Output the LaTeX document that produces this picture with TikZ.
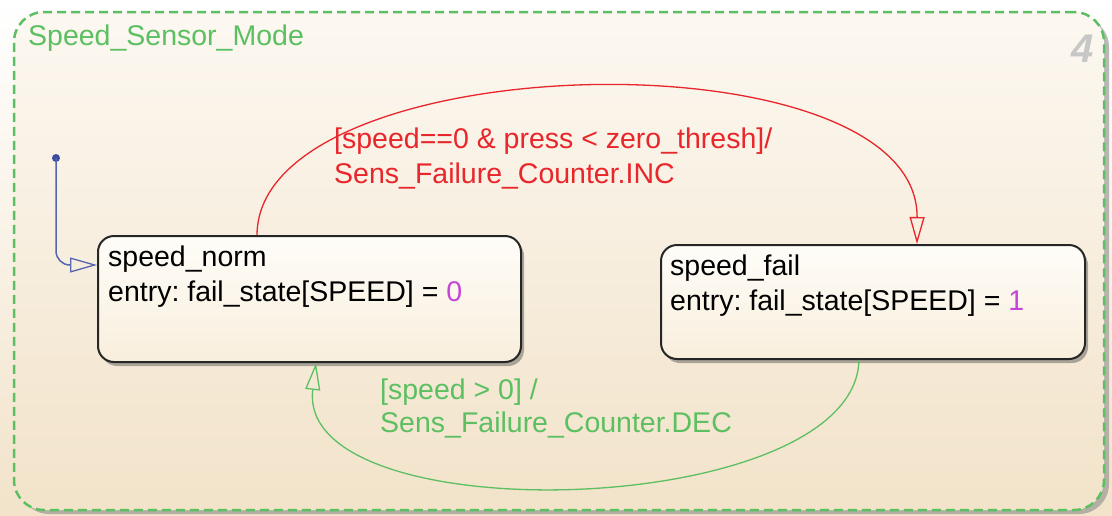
\documentclass[tikz,border=0pt]{standalone}
\usepackage{fontspec}
\setmainfont{Liberation Sans}
\usetikzlibrary{arrows.meta,shadows,calc}
\definecolor{sfgreen}{HTML}{5CBF62}
\definecolor{sfred}{HTML}{E8262B}
\definecolor{sfblue}{HTML}{5565B0}
\definecolor{sfdot}{HTML}{3D4C9C}
\definecolor{sfmag}{HTML}{C446D6}
\definecolor{bgtop}{HTML}{FCF8F1}
\definecolor{bgbot}{HTML}{F2E3CA}
\definecolor{boxtop}{HTML}{FFFDF9}
\definecolor{boxbot}{HTML}{F8EEDC}
\frenchspacing
\begin{document}
\begin{tikzpicture}[x=1pt,y=-1pt,
  lbl/.style={font=\fontsize{28.5}{34}\selectfont, inner sep=0pt, anchor=base west},
  statebox/.style={draw=black!85, line width=2pt, rounded corners=16pt,
    top color=boxtop, bottom color=boxbot, inner sep=0pt,
    drop shadow={opacity=0.45, shadow xshift=3pt, shadow yshift=-4pt, fill=black!70}},
  frame/.style={draw=sfgreen, line width=2.5pt, dash pattern=on 9pt off 5pt,
    rounded corners=30pt, top color=bgtop, bottom color=bgbot, inner sep=0pt},
  tipopen/.style={-{Triangle[open, length=27pt, width=15pt, line width=1.3pt]}},
  redtr/.style={draw=sfred, line width=1.3pt, tipopen},
  greentr/.style={draw=sfgreen, line width=1.3pt, tipopen},
  bluetr/.style={draw=sfblue, line width=1.5pt, tipopen, rounded corners=14pt}
]
\useasboundingbox (0,0) rectangle (1112,515);
\fill[top color=white, bottom color=bgbot] (0,0) rectangle (1112,515);
% frame shadow
\fill[black!45, opacity=0.6, rounded corners=30pt] (19,17) rectangle (1109,514);
\node[frame, minimum width=1090pt, minimum height=498pt] (mode) at (559,261) {};
\node[lbl, text=sfgreen] (title) at (28,45) {Speed\_Sensor\_Mode};
\node[inner sep=0pt, anchor=base east, text=black!22,
  font=\fontsize{40}{40}\selectfont\bfseries\itshape] (num) at (1094,62) {4};

% states
\node[statebox, minimum width=423pt, minimum height=126pt] (norm) at (309.5,299) {};
\node[statebox, minimum width=424pt, minimum height=114pt] (fail) at (873,302) {};

\node[lbl] (normname) at (108,266) {speed\_norm};
\node[lbl] (normentry) at (108,301) {entry: fail\_state[SPEED] = \textcolor{sfmag}{0}};
\node[lbl] (failname) at (670,275) {speed\_fail};
\node[lbl] (failentry) at (670,310) {entry: fail\_state[SPEED] = \textcolor{sfmag}{1}};

% default transition
\node[circle, fill=sfdot, inner sep=0pt, minimum size=8pt] (init) at (56,158) {};
\draw[bluetr] (init.center) |- ([yshift=34pt]norm.west);

% red transition
\draw[redtr] ([xshift=160pt]norm.north west)
  .. controls (258,45) and (918,30) .. ([xshift=257pt]fail.north west);
\node[lbl, text=sfred] (redl1) at (334,148) {[speed==0 \& press < zero\_thresh]/};
\node[lbl, text=sfred] (redl2) at (334,183) {Sens\_Failure\_Counter.INC};

% green transition
\draw[greentr] ([xshift=199pt]fail.south west)
  .. controls (855,520) and (295,535) .. ([xshift=219pt]norm.south west);
\node[lbl, text=sfgreen] (grnl1) at (380,399) {[speed > 0] /};
\node[lbl, text=sfgreen] (grnl2) at (380,432) {Sens\_Failure\_Counter.DEC};
\end{tikzpicture}
\end{document}
